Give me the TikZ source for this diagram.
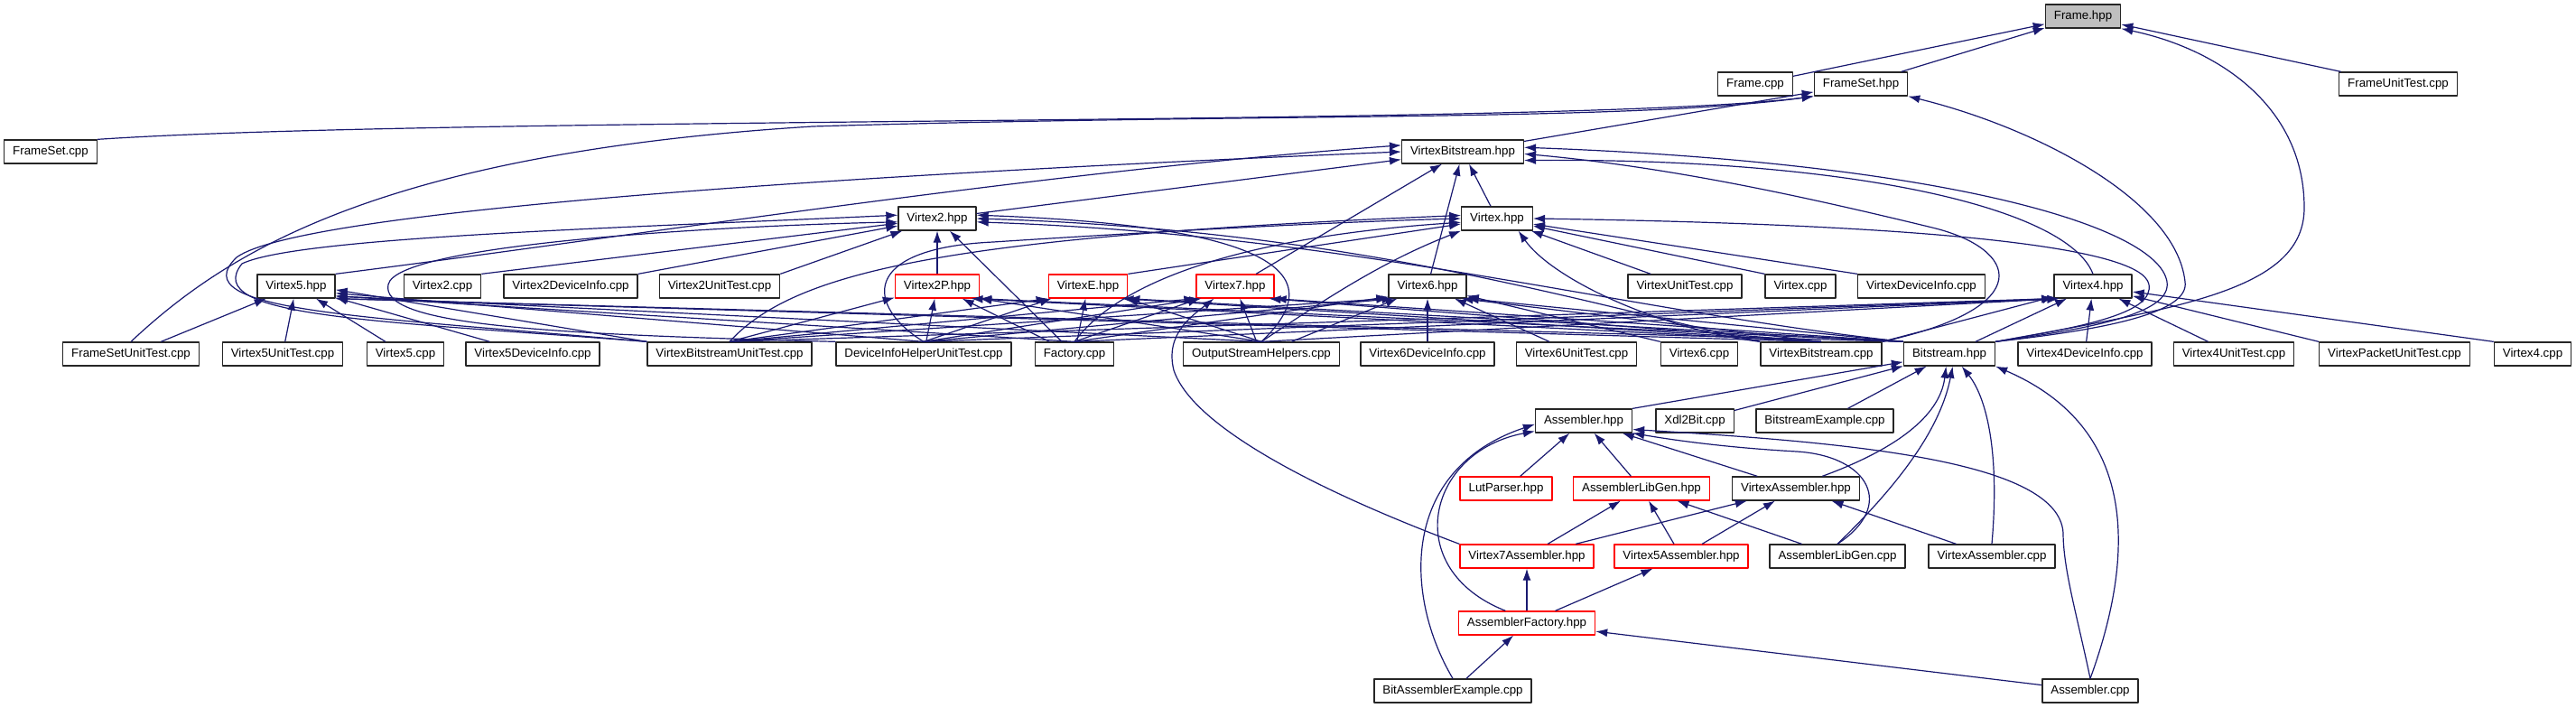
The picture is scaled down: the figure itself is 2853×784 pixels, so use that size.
\documentclass[tikz,border=0pt]{standalone}
\usepackage{fontspec}
\setmainfont{Liberation Sans}
\usetikzlibrary{arrows.meta}
\definecolor{graphEdge}{HTML}{191970}
\definecolor{graphRoot}{HTML}{BFBFBF}
\definecolor{graphLine}{HTML}{262626}
\definecolor{graphTrunc}{HTML}{FF0000}
\begin{document}
\begin{tikzpicture}[x=1pt,y=-1pt,>={Latex[length=13pt,width=9pt]},line join=round]
\path[fill=white] (0,0) rectangle (2853,784);
\tikzset{filebox/.style={draw=graphLine,fill=white,line width=1.3pt,minimum height=26pt,inner xsep=9.5pt,inner ysep=0pt,font=\fontsize{13.3}{16}\selectfont},truncbox/.style={filebox,draw=graphTrunc},rootbox/.style={filebox,fill=graphRoot},incl/.style={draw=graphEdge,line width=1.2pt,->}}
\node[rootbox] (frameH) at (2307,18) {Frame.hpp};
\node[filebox] (frameCpp) at (1944,93) {Frame.cpp};
\node[filebox] (frameSetH) at (2061,93) {FrameSet.hpp};
\node[filebox] (frameUT) at (2656,93) {FrameUnitTest.cpp};
\node[filebox] (frameSetCpp) at (56,168) {FrameSet.cpp};
\node[filebox] (vbH) at (1620,168) {VirtexBitstream.hpp};
\node[filebox] (v2H) at (1038,242) {Virtex2.hpp};
\node[filebox] (vH) at (1658,242) {Virtex.hpp};
\node[filebox] (v5H) at (328,317) {Virtex5.hpp};
\node[filebox] (v2Cpp) at (490,317) {Virtex2.cpp};
\node[filebox] (v2DI) at (632,317) {Virtex2DeviceInfo.cpp};
\node[filebox] (v2UT) at (797,317) {Virtex2UnitTest.cpp};
\node[truncbox] (v2PH) at (1038,317) {Virtex2P.hpp};
\node[truncbox] (vEH) at (1205,317) {VirtexE.hpp};
\node[truncbox] (v7H) at (1368,317) {Virtex7.hpp};
\node[filebox] (v6H) at (1581,317) {Virtex6.hpp};
\node[filebox] (vUT) at (1866,317) {VirtexUnitTest.cpp};
\node[filebox] (vCpp) at (1994,317) {Virtex.cpp};
\node[filebox] (vDI) at (2128,317) {VirtexDeviceInfo.cpp};
\node[filebox] (v4H) at (2318,317) {Virtex4.hpp};
\node[filebox] (fsUT) at (145,392) {FrameSetUnitTest.cpp};
\node[filebox] (v5UT) at (313,392) {Virtex5UnitTest.cpp};
\node[filebox] (v5Cpp) at (449,392) {Virtex5.cpp};
\node[filebox] (v5DI) at (590,392) {Virtex5DeviceInfo.cpp};
\node[filebox] (vbUT) at (808,392) {VirtexBitstreamUnitTest.cpp};
\node[filebox] (dihUT) at (1023,392) {DeviceInfoHelperUnitTest.cpp};
\node[filebox] (factory) at (1190,392) {Factory.cpp};
\node[filebox] (osh) at (1397,392) {OutputStreamHelpers.cpp};
\node[filebox] (v6DI) at (1581,392) {Virtex6DeviceInfo.cpp};
\node[filebox] (v6UT) at (1746,392) {Virtex6UnitTest.cpp};
\node[filebox] (v6Cpp) at (1882,392) {Virtex6.cpp};
\node[filebox] (vbCpp) at (2017,392) {VirtexBitstream.cpp};
\node[filebox] (bitH) at (2159,392) {Bitstream.hpp};
\node[filebox] (v4DI) at (2309,392) {Virtex4DeviceInfo.cpp};
\node[filebox] (v4UT) at (2474,392) {Virtex4UnitTest.cpp};
\node[filebox] (vpUT) at (2652,392) {VirtexPacketUnitTest.cpp};
\node[filebox] (v4Cpp) at (2805,392) {Virtex4.cpp};
\node[filebox] (asmH) at (1754,466) {Assembler.hpp};
\node[filebox] (xdl) at (1877,466) {Xdl2Bit.cpp};
\node[filebox] (bsEx) at (2021,466) {BitstreamExample.cpp};
\node[truncbox] (lutH) at (1668,541) {LutParser.hpp};
\node[truncbox] (alGenH) at (1818,541) {AssemblerLibGen.hpp};
\node[filebox] (vaH) at (1989,541) {VirtexAssembler.hpp};
\node[truncbox] (v7aH) at (1691,616) {Virtex7Assembler.hpp};
\node[truncbox] (v5aH) at (1862,616) {Virtex5Assembler.hpp};
\node[filebox] (alGenCpp) at (2035,616) {AssemblerLibGen.cpp};
\node[filebox] (vaCpp) at (2206,616) {VirtexAssembler.cpp};
\node[truncbox] (afH) at (1691,690) {AssemblerFactory.hpp};
\node[filebox] (baEx) at (1609,765) {BitAssemblerExample.cpp};
\node[filebox] (asmCpp) at (2315,765) {Assembler.cpp};
\draw[incl] (frameCpp) -- (frameH); \draw[incl] (frameSetH) -- (frameH); \draw[incl] (frameUT) -- (frameH);
\draw[incl] (bitH.north east) .. controls (2420,340) and (2552,320) .. (2552,230) .. controls (2552,120) and (2460,55) .. (frameH.south east);
\draw[incl] (frameSetCpp.north east) .. controls (500,128) and (1750,140) .. (frameSetH.south west);
\draw[incl] (fsUT.north) .. controls (250,280) and (420,170) .. (900,140) .. controls (1400,125) and (1800,135) .. (frameSetH.south west);
\draw[incl] (vbH) -- (frameSetH);
\draw[incl] (bitH.north east) .. controls (2340,364) and (2425,345) .. (2420,312) .. controls (2410,220) and (2250,140) .. (frameSetH.south east);
\draw[incl] (v2H) -- (vbH); \draw[incl] (vH) -- (vbH); \draw[incl] (v6H) -- (vbH); \draw[incl] (v7H) -- (vbH);
\draw[incl] (v5H.north east) .. controls (700,262) and (1150,190) .. (vbH.174);
\draw[incl] (vbUT.north west) .. controls (400,350) and (200,345) .. (262,285) .. controls (330,235) and (900,195) .. (vbH.180);
\draw[incl] (v4H.north) .. controls (2290,230) and (2050,175) .. (vbH.-8);
\draw[incl] (vbCpp.north east) .. controls (2260,340) and (2235,275) .. (2140,252) .. controls (2000,218) and (1850,185) .. (vbH.-2);
\draw[incl] (bitH.north east) .. controls (2330,362) and (2405,345) .. (2400,312) .. controls (2390,250) and (2150,180) .. (vbH.4);
\draw[incl] (v2Cpp.north east) -- (v2H); \draw[incl] (v2DI.north east) -- (v2H); \draw[incl] (v2UT.north east) -- (v2H); \draw[incl] (v2PH) -- (v2H); \draw[incl] (factory) -- (v2H);
\draw[incl] (vbUT.north west) .. controls (420,355) and (220,352) .. (268,292) .. controls (330,262) and (700,252) .. (v2H.175);
\draw[incl] (dihUT.north west) .. controls (600,370) and (420,360) .. (430,315) .. controls (440,270) and (800,250) .. (v2H.185);
\draw[incl] (osh.north) .. controls (1480,300) and (1400,250) .. (v2H.5);
\draw[incl] (vbCpp.north west) .. controls (1750,335) and (1500,255) .. (v2H.0);
\draw[incl] (bitH.north west) .. controls (1800,345) and (1500,260) .. (v2H.-5);
\draw[incl] (vEH.north east) -- (vH); \draw[incl] (vUT) -- (vH); \draw[incl] (vCpp.north west) -- (vH); \draw[incl] (vDI.north west) -- (vH);
\draw[incl] (vbUT.north) .. controls (880,300) and (1050,262) .. (vH.175);
\draw[incl] (dihUT.north) .. controls (960,340) and (950,275) .. (1100,268) .. controls (1300,255) and (1500,245) .. (vH.180);
\draw[incl] (factory.north) .. controls (1240,310) and (1380,262) .. (vH.186);
\draw[incl] (osh.north) .. controls (1470,330) and (1530,290) .. (vH.south west);
\draw[incl] (vbCpp.north west) .. controls (1840,365) and (1720,310) .. (vH.-30);
\draw[incl] (bitH.north east) .. controls (2320,360) and (2385,345) .. (2380,315) .. controls (2372,270) and (2100,248) .. (vH.east);
\draw[incl] (fsUT) -- (v5H); \draw[incl] (v5UT) -- (v5H); \draw[incl] (v5Cpp) -- (v5H); \draw[incl] (v5DI) -- (v5H);
\draw[incl] (vbUT.north west) -- (v5H.-5); \draw[incl] (dihUT.north) -- (v5H.-10); \draw[incl] (factory.north) -- (v5H.-14); \draw[incl] (osh.north) -- (v5H.-14); \draw[incl] (vbCpp.north) -- (v5H.south east); \draw[incl] (bitH.north west) -- (v5H.south east);
\draw[incl] (vbUT.north) -- (v2PH); \draw[incl] (dihUT) -- (v2PH); \draw[incl] (factory) -- (v2PH); \draw[incl] (osh.north) -- (v2PH.south east); \draw[incl] (vbCpp.north) -- (v2PH.-20); \draw[incl] (bitH.north west) -- (v2PH.south east);
\draw[incl] (vbUT.north) -- (vEH.south west); \draw[incl] (dihUT.north) -- (vEH); \draw[incl] (factory) -- (vEH); \draw[incl] (osh.north) -- (vEH); \draw[incl] (vbCpp.north) -- (vEH.-20); \draw[incl] (bitH.north west) -- (vEH.south east);
\draw[incl] (vbUT.north) -- (v7H.south west); \draw[incl] (dihUT.north) -- (v7H.-160); \draw[incl] (factory.north) -- (v7H); \draw[incl] (osh) -- (v7H); \draw[incl] (vbCpp.north) -- (v7H.-20); \draw[incl] (bitH.north west) -- (v7H.south east);
\draw[incl] (v7aH.north west) .. controls (1450,540) and (1320,470) .. (1300,410) .. controls (1290,370) and (1320,350) .. (v7H.-150);
\draw[incl] (vbUT.north) -- (v6H.south west); \draw[incl] (dihUT.north) -- (v6H.-160); \draw[incl] (factory.north) -- (v6H.-165); \draw[incl] (osh) -- (v6H); \draw[incl] (vbCpp.north) -- (v6H.-20); \draw[incl] (bitH.north west) -- (v6H.south east);
\draw[incl] (v6DI) -- (v6H); \draw[incl] (v6UT) -- (v6H); \draw[incl] (v6Cpp.north west) -- (v6H);
\draw[incl] (vbUT.north) -- (v4H.south west); \draw[incl] (dihUT.north) -- (v4H.south west); \draw[incl] (factory.north) -- (v4H.-160); \draw[incl] (osh.north) -- (v4H.-160);
\draw[incl] (vbCpp.north east) -- (v4H); \draw[incl] (bitH) -- (v4H); \draw[incl] (v4DI) -- (v4H); \draw[incl] (v4UT) -- (v4H); \draw[incl] (vpUT.north west) -- (v4H); \draw[incl] (v4Cpp.north west) -- (v4H);
\draw[incl] (asmH.north east) -- (bitH); \draw[incl] (xdl) -- (bitH); \draw[incl] (bsEx) -- (bitH);
\draw[incl] (vaH.25) .. controls (2120,490) and (2150,450) .. (bitH.-105);
\draw[incl] (alGenCpp.north) .. controls (2110,530) and (2150,470) .. (bitH.-75);
\draw[incl] (vaCpp.north) .. controls (2215,500) and (2200,440) .. (bitH.-45);
\draw[incl] (asmCpp.north) .. controls (2370,600) and (2360,470) .. (bitH.south east);
\draw[incl] (lutH) -- (asmH); \draw[incl] (alGenH) -- (asmH); \draw[incl] (vaH) -- (asmH);
\draw[incl] (alGenCpp.north) .. controls (2100,560) and (2070,505) .. (1990,500) .. controls (1900,495) and (1840,485) .. (asmH.south east);
\draw[incl] (afH.150) .. controls (1550,630) and (1580,500) .. (asmH.192);
\draw[incl] (baEx.north) .. controls (1555,660) and (1550,520) .. (asmH.184);
\draw[incl] (asmCpp.north) .. controls (2300,680) and (2285,630) .. (2285,590) .. controls (2280,510) and (2050,490) .. (asmH.-10);
\draw[incl] (v7aH) -- (alGenH); \draw[incl] (v5aH) -- (alGenH); \draw[incl] (alGenCpp) -- (alGenH);
\draw[incl] (v7aH) -- (vaH); \draw[incl] (v5aH) -- (vaH); \draw[incl] (vaCpp) -- (vaH);
\draw[incl] (afH) -- (v7aH); \draw[incl] (afH) -- (v5aH);
\draw[incl] (baEx) -- (afH); \draw[incl] (asmCpp) -- (afH);
\end{tikzpicture}
\end{document}
